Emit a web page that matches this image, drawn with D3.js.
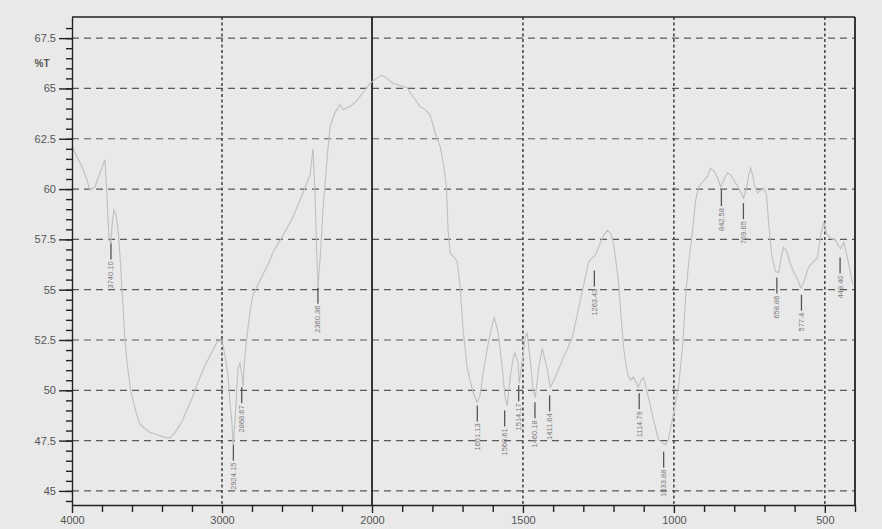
<!DOCTYPE html>
<html>
<head>
<meta charset="utf-8">
<script src="https://cdn.jsdelivr.net/npm/d3@7"></script>
<style>
  html, body { margin: 0; padding: 0; background: #e9e9e9; }
  svg { display: block; font-family: "Liberation Sans", Arial, sans-serif; }
  .axis path, .axis line { stroke: #222; stroke-width: 1.4; }
  .axis text { fill: #555; font-size: 11px; }
</style>
</head>
<body>
<svg id="chart"></svg>
<script>
// wavenumber (1/cm)
var wavenumber = [4000,3980,3933,3900,3880,3860,3847,3833,3813,3793,3780,3767,3753,3740,3733,3720,3707,3693,3680,3667,3660,3647,3633,3620,3607,3593,3573,3547,3513,3480,3433,3380,3347,3313,3267,3200,3160,3113,3067,3033,3013,2993,2973,2960,2947,2933,2927,2924,2913,2900,2893,2880,2867,2860,2853,2840,2827,2813,2793,2760,2727,2693,2660,2613,2567,2527,2480,2447,2413,2393,2380,2367,2360,2340,2327,2300,2280,2247,2213,2193,2147,2100,2060,2013,
  1985,1967,1950,1930,1907,1884,1874,1857,1841,1824,1808,1791,1774,1764,1754,1751,1748,1741,1728,1718,1708,1698,1685,1675,1665,1652,1642,1632,1615,1602,1595,1582,1569,1559,1552,1542,1532,1526,1516,1512,1502,1492,1486,1476,1466,1459,1449,1436,1419,1409,1393,1370,1350,1336,1317,1300,1283,1270,1260,1250,1233,1220,1210,1200,1184,1167,1154,1144,1134,1124,1118,1108,1101,1084,1068,1051,1038,1028,1018,1001,985,971,961,951,938,928,918,902,888,878,865,855,845,832,822,812,802,789,779,769,759,752,746,739,733,723,713,703,693,686,676,663,653,643,637,627,617,604,590,580,570,557,547,537,524,514,504,494,481,464,454,447,437,427,417,407];
// transmittance (%T)
var transmittance = [62.1,61.8,61.1,60.45,59.95,60.05,60.1,60.4,60.8,61.2,61.45,59.7,57.45,57.3,58.2,58.95,58.75,57.95,56.7,55.0,54.25,52.5,51.4,50.6,49.9,49.5,48.9,48.3,48.1,47.9,47.8,47.65,47.65,47.9,48.45,49.6,50.4,51.25,51.9,52.4,52.5,52.25,51.4,50.75,49.4,48.3,47.4,47.3,48.45,50.25,51.1,51.35,50.75,50.15,51.1,52.25,53.1,53.9,54.75,55.25,55.75,56.25,56.85,57.45,58.05,58.6,59.45,60.05,60.7,62.0,59.8,56.5,55.1,57.2,58.95,61.45,63.1,63.8,64.2,63.95,64.1,64.4,64.8,65.25,
  65.5,65.65,65.5,65.25,65.15,65.05,64.8,64.45,64.1,63.95,63.7,62.8,62.1,61.3,60.2,59.2,57.95,56.8,56.6,56.4,55.15,53.0,51.15,50.5,49.9,49.4,49.75,50.85,52.35,53.25,53.6,52.85,51.15,49.65,49.25,50.65,51.65,51.85,51.35,50.35,51.5,52.65,52.85,51.5,50.0,49.65,51.0,52.1,51.0,50.15,50.65,51.5,52.15,52.65,54.0,55.15,56.35,56.6,56.7,57.1,57.7,57.95,57.8,57.3,55.5,52.15,50.85,50.5,50.65,50.35,50.15,50.5,50.65,49.65,48.55,47.55,47.4,47.3,47.55,48.85,50.15,52.15,54.65,56.35,57.95,59.45,60.1,60.4,60.65,61.05,60.85,60.55,60.1,60.55,60.8,60.7,60.45,60.15,59.85,59.55,60.1,60.7,61.05,60.7,60.2,59.8,59.95,60.05,59.7,58.3,56.7,55.9,55.85,56.7,57.1,56.95,56.4,55.9,55.5,55.1,55.35,56.0,56.25,56.4,56.6,57.7,58.35,57.8,57.55,57.45,57.15,57.05,57.35,56.7,56.0,55.25];

// peak labels
var peakText = ["3740.10","2924.15","2868.67","2360.36","1651.13","1560.61","1514.17","1460.18","1411.64","1263.43","1114.79","1033.88","842.58","769.65","658.86","577.4","449.40"];
var peakWn = [3740.10,2924.15,2868.67,2360.36,1651.13,1560.61,1514.17,1460.18,1411.64,1263.43,1114.79,1033.88,842.58,769.65,658.86,577.4,449.40];
var peakT = [57.3,47.3,50.15,55.1,49.25,49.0,50.25,49.4,49.75,55.95,49.85,46.95,59.95,59.3,55.6,54.75,56.6];

var xMajor = [4000,3000,2000,1500,1000,500];
var xGrid = [3000,1500,1000,500];
var yMajor = [45,47.5,50,52.5,55,57.5,60,62.5,65,67.5];

var margin = {top: 17, left: 72},
    height = 488;

var svg = d3.select("#chart")
    .attr("width", 882)
    .attr("height", 529);

svg.append("rect").attr("width", 882).attr("height", 529).attr("fill", "#e9e9e9");

var g = svg.append("g")
    .attr("transform", "translate(" + margin.left + "," + margin.top + ")");

// scale break at 2000: left half is compressed
var x = d3.scaleLinear().domain([4000, 2000, 400]).range([0, 300, 783]);
var y = d3.scaleLinear().domain([44.3, 68.55]).range([height, 0]);

// horizontal grid
g.selectAll(".hgrid")
    .data(yMajor)
    .enter().append("line")
    .attr("x1", 0).attr("x2", x(400))
    .attr("y1", function(d) { return y(d); })
    .attr("y2", function(d) { return y(d); })
    .attr("stroke", "#5a5a5a")
    .attr("stroke-width", 1.2)
    .attr("stroke-dasharray", "7,5");

// vertical grid
g.selectAll(".vgrid")
    .data(xGrid)
    .enter().append("line")
    .attr("x1", function(d) { return x(d); })
    .attr("x2", function(d) { return x(d); })
    .attr("y1", 0).attr("y2", height)
    .attr("stroke", "#4a4a4a")
    .attr("stroke-width", 1.6)
    .attr("stroke-dasharray", "3,2.5");

// scale break line
g.append("line")
    .attr("x1", x(2000)).attr("x2", x(2000))
    .attr("y1", 0).attr("y2", height)
    .attr("stroke", "#222").attr("stroke-width", 1.8);

// frame
g.append("line").attr("x1", 0).attr("x2", x(400)).attr("y1", 0).attr("y2", 0)
    .attr("stroke", "#222").attr("stroke-width", 1.4);
g.append("line").attr("x1", x(400)).attr("x2", x(400)).attr("y1", 0).attr("y2", height)
    .attr("stroke", "#222").attr("stroke-width", 1.8);

// spectrum
var spectrum = wavenumber.map(function(w, i) { return {wn: w, t: transmittance[i]}; });
var valueline = d3.line()
    .x(function(d) { return x(d.wn); })
    .y(function(d) { return y(d.t); });

g.append("path")
    .datum(spectrum)
    .attr("fill", "none")
    .attr("stroke", "#bfbfbf")
    .attr("stroke-width", 1.1)
    .attr("d", valueline);

// peak markers
var peaks = peakWn.map(function(w, i) { return {wn: w, t: peakT[i], label: peakText[i]}; });
var pk = g.selectAll(".peak").data(peaks).enter().append("g")
    .attr("transform", function(d) { return "translate(" + x(d.wn) + "," + y(d.t) + ")"; });
pk.append("line")
    .attr("x1", 0).attr("x2", 0).attr("y1", 0).attr("y2", 16)
    .attr("stroke", "#555").attr("stroke-width", 1.3);
pk.append("text")
    .attr("transform", "translate(2.5,18) rotate(-90)")
    .attr("text-anchor", "end")
    .attr("fill", "#7a7a7a")
    .attr("font-size", "7.5px")
    .text(function(d) { return d.label; });

// x axis
var minorX = d3.range(3800, 2000, -200).concat(d3.range(1900, 399, -100))
    .filter(function(d) { return xMajor.indexOf(d) < 0; });

g.append("g")
    .attr("class", "axis")
    .attr("transform", "translate(0," + height + ")")
    .call(d3.axisBottom(x).tickValues(minorX).tickSize(7).tickFormat(""))
    .call(function(s) { s.select(".domain").remove(); });

g.append("g")
    .attr("class", "axis")
    .attr("transform", "translate(0," + height + ")")
    .call(d3.axisBottom(x).tickValues(xMajor).tickSize(8).tickSizeOuter(0).tickPadding(3).tickFormat(d3.format("d")));

// y axis
g.append("g")
    .attr("class", "axis")
    .call(d3.axisLeft(y).tickValues(d3.range(44.5, 68.5, 0.5)).tickSize(6).tickFormat(""))
    .call(function(s) { s.select(".domain").remove(); });

g.append("g")
    .attr("class", "axis")
    .call(d3.axisLeft(y).tickValues(yMajor).tickSize(13).tickSizeOuter(0).tickPadding(3)
        .tickFormat(function(d) { return d % 1 ? d3.format(".1f")(d) : d; }));

g.append("text")
    .attr("x", -30).attr("y", y(66.25) + 4)
    .attr("text-anchor", "middle")
    .attr("fill", "#555")
    .attr("font-size", "10px")
    .attr("font-weight", "bold")
    .text("%T");
</script>
</body>
</html>
